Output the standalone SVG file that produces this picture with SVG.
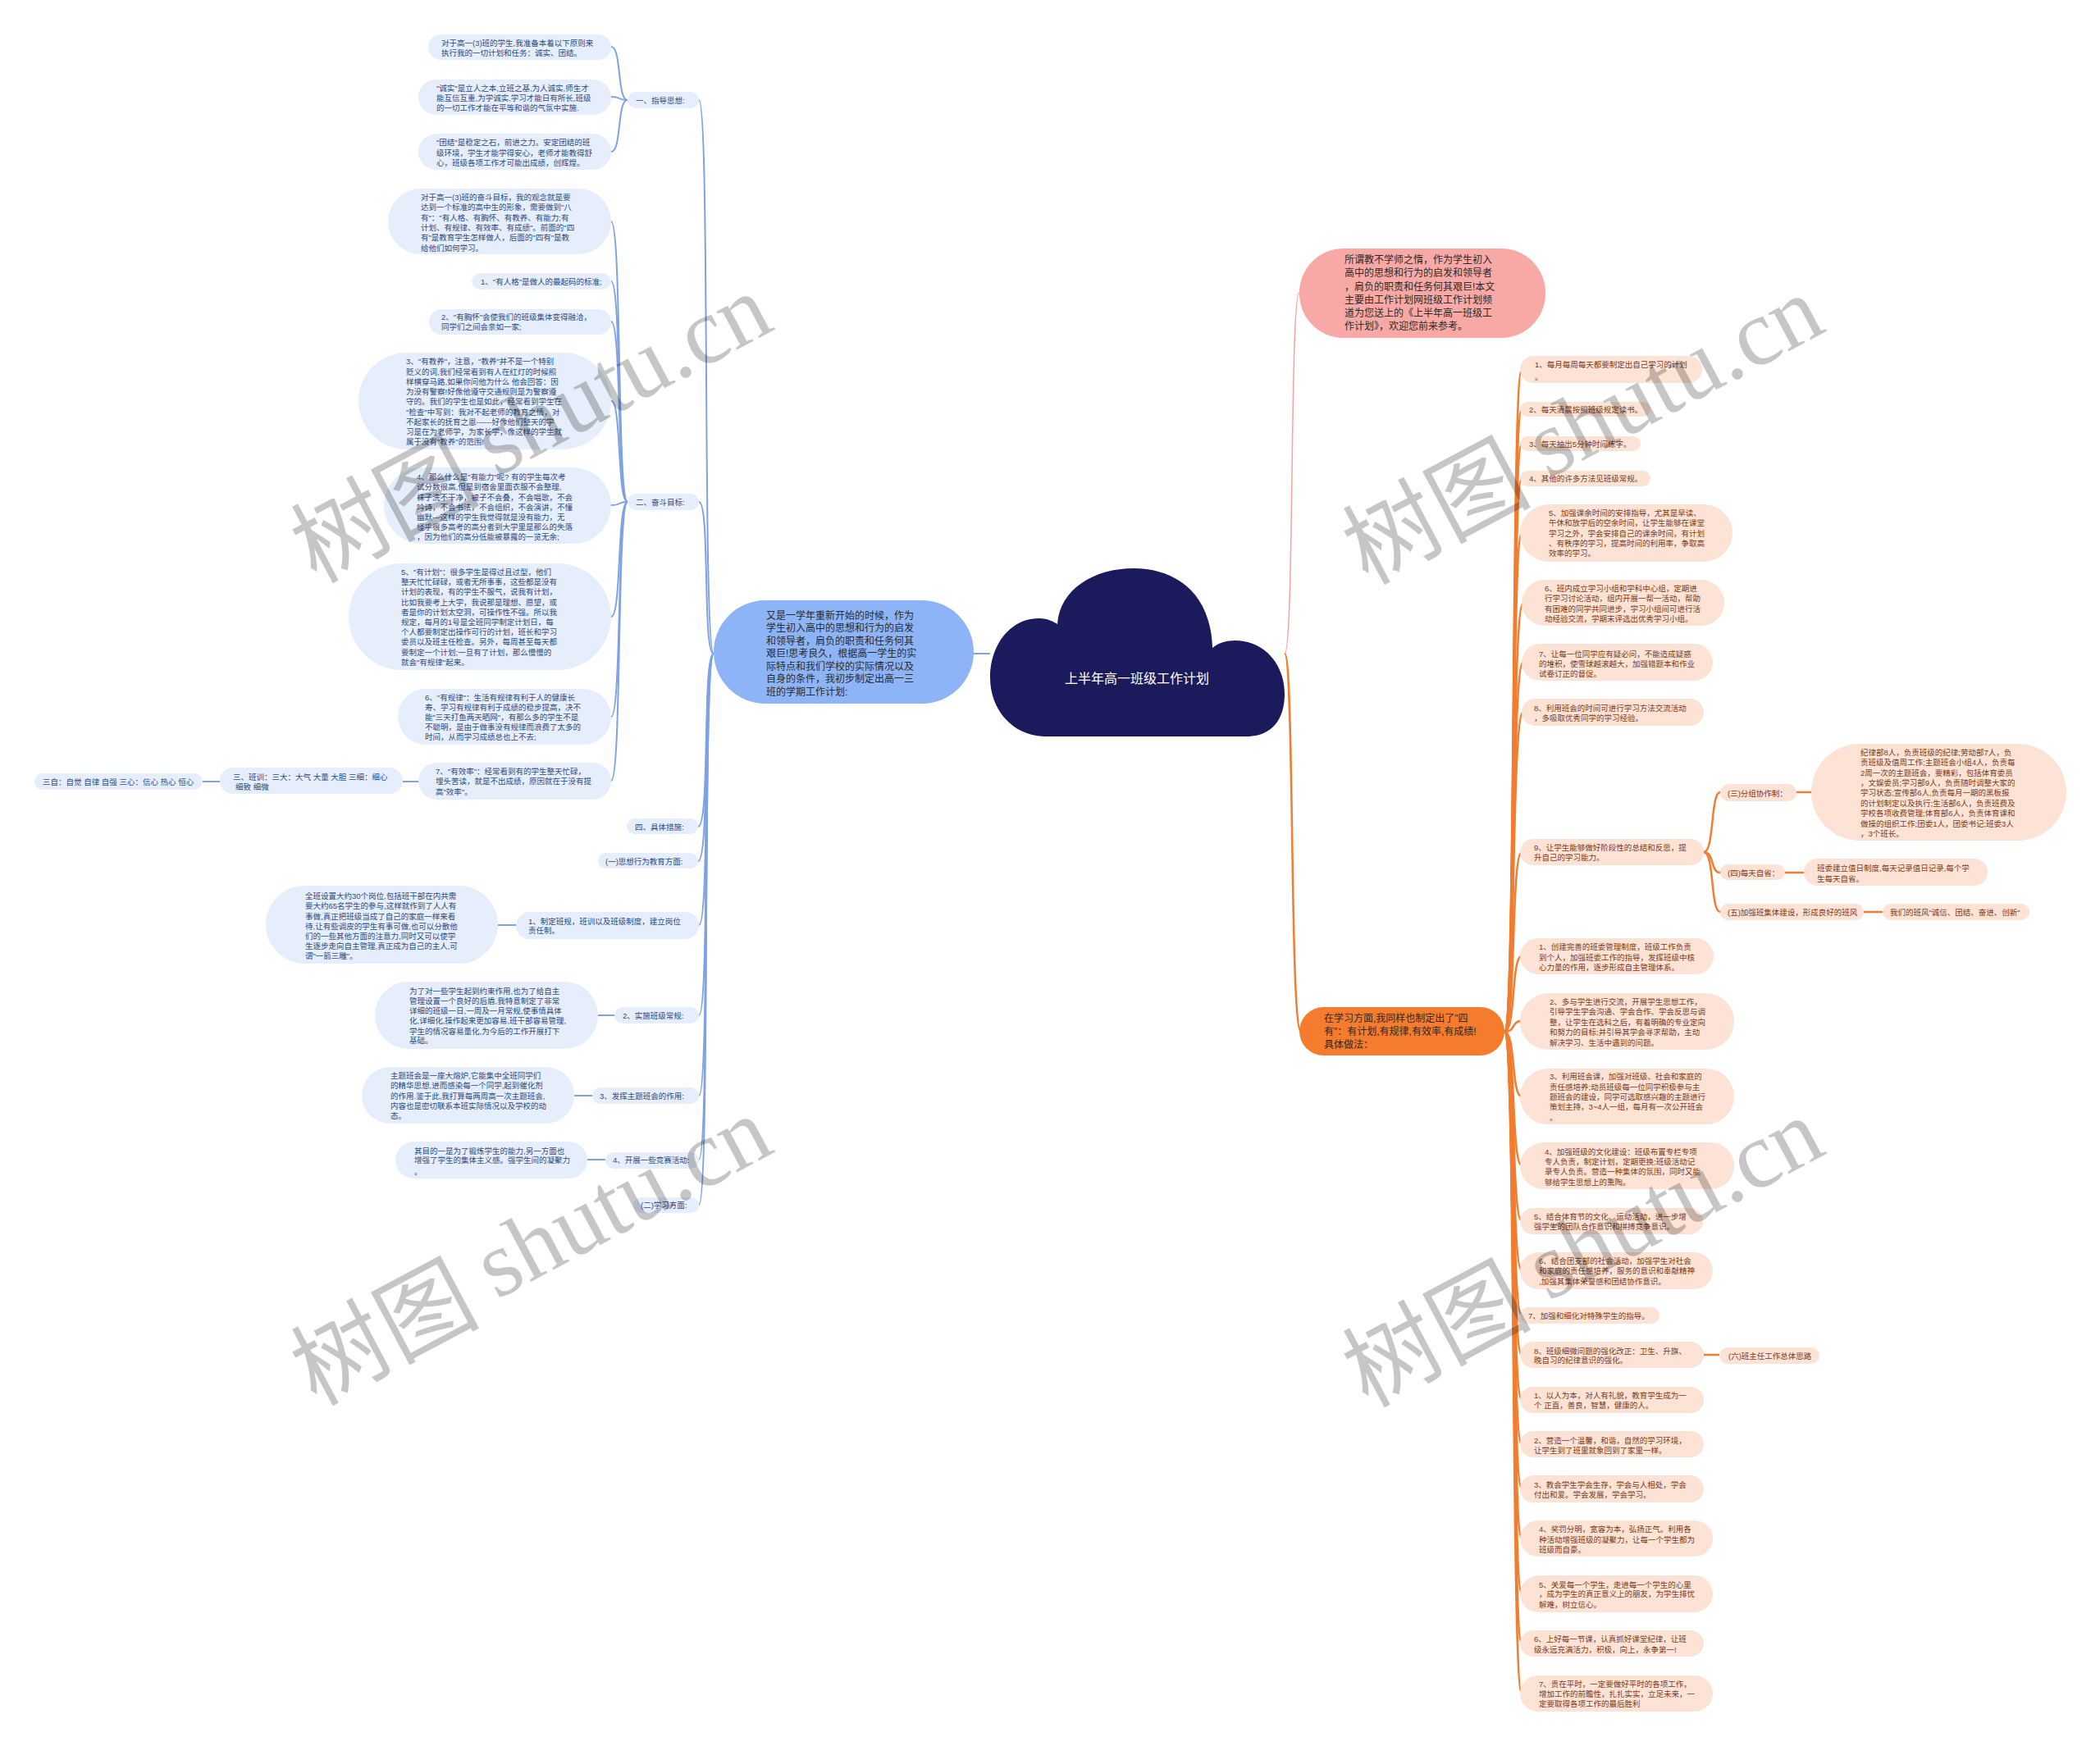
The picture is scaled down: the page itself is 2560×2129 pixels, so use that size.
<svg xmlns="http://www.w3.org/2000/svg" width="2560" height="2129" viewBox="0 0 2560 2129">
<style>
text{font-family:"Liberation Sans","Noto Sans CJK SC",sans-serif;dominant-baseline:central}
.ln{fill:#e6eefc}
.lt{fill:#2d4b80;font-size:9.5px}
.rn{fill:#fde3d5}
.rt{fill:#7a3b1c;font-size:9.5px}
.bt{fill:#2a2a2a;font-size:12px}
.bl{stroke:#7ea2e3;fill:none;stroke-width:2}
.or{stroke:#f27c2f;fill:none;stroke-width:2.5}
.wm{font-size:115px;fill:#000;opacity:0.22;font-family:"Noto Sans CJK SC","Liberation Serif",sans-serif}
</style>
<rect width="2560" height="2129" fill="#ffffff"/>

<g id="connectors">
<path class="bl" d="M1187 797 L1207 797"/>
<path class="bl" d="M870 797 C856 797 866 122 852 122"/>
<path class="bl" d="M870 797 C856 797 866 612 852 612"/>
<path class="bl" d="M870 797 C856 797 866 1008 851 1008"/>
<path class="bl" d="M870 797 C856 797 866 1050 851 1050"/>
<path class="bl" d="M870 797 C856 797 866 1128 852 1128"/>
<path class="bl" d="M870 797 C856 797 866 1238 852 1238"/>
<path class="bl" d="M870 797 C856 797 866 1336 852 1336"/>
<path class="bl" d="M870 797 C856 797 866 1414 852 1414"/>
<path class="bl" d="M870 797 C856 797 866 1469 852 1469"/>
<g>
<path class="bl" stroke-width="1.5" d="M765 122 C752 122 758 57 745 57"/>
<path class="bl" stroke-width="1.5" d="M765 122 C752 122 758 118 745 118"/>
<path class="bl" stroke-width="1.5" d="M765 122 C752 122 758 185 745 185"/>
<path class="bl" stroke-width="1.5" d="M765 612 C752 612 758 270 745 270"/>
<path class="bl" stroke-width="1.5" d="M765 612 C752 612 758 343 745 343"/>
<path class="bl" stroke-width="1.5" d="M765 612 C752 612 758 392 745 392"/>
<path class="bl" stroke-width="1.5" d="M765 612 C752 612 758 489 745 489"/>
<path class="bl" stroke-width="1.5" d="M765 612 C752 612 758 616 745 616"/>
<path class="bl" stroke-width="1.5" d="M765 612 C752 612 758 752 745 752"/>
<path class="bl" stroke-width="1.5" d="M765 612 C752 612 758 874 745 874"/>
<path class="bl" stroke-width="1.5" d="M765 612 C752 612 758 952 745 952"/>
<path class="bl" stroke-width="1.5" d="M510 953 L491 953"/>
<path class="bl" stroke-width="1.5" d="M268 953 L247 953"/>
<path class="bl" stroke-width="1.5" d="M629 1128 L607 1128"/>
<path class="bl" stroke-width="1.5" d="M749 1238 L729 1238"/>
<path class="bl" stroke-width="1.5" d="M722 1336 L700 1336"/>
<path class="bl" stroke-width="1.5" d="M738 1414 L716 1414"/>
</g>
<path d="M1566 797 C1578 797 1572 357 1584 357" fill="none" stroke="#f5a39c" stroke-width="1.5"/>
<path class="or" stroke-width="3.5" d="M1566 797 C1578 797 1572 1258 1586 1258"/>
<path class="or" d="M1834 1258 C1848 1258 1842 450 1855 450"/>
<path class="or" d="M1834 1258 C1848 1258 1842 499 1855 499"/>
<path class="or" d="M1834 1258 C1848 1258 1842 541 1855 541"/>
<path class="or" d="M1834 1258 C1848 1258 1842 583 1855 583"/>
<path class="or" d="M1834 1258 C1848 1258 1842 650 1855 650"/>
<path class="or" d="M1834 1258 C1848 1258 1842 735 1857 735"/>
<path class="or" d="M1834 1258 C1848 1258 1842 807 1857 807"/>
<path class="or" d="M1834 1258 C1848 1258 1842 868 1857 868"/>
<path class="or" d="M1834 1258 C1848 1258 1842 1039 1855 1039"/>
<path class="or" d="M1834 1258 C1848 1258 1842 1166 1855 1166"/>
<path class="or" d="M1834 1258 C1848 1258 1842 1245 1855 1245"/>
<path class="or" d="M1834 1258 C1848 1258 1842 1337 1855 1337"/>
<path class="or" d="M1834 1258 C1848 1258 1842 1421 1855 1421"/>
<path class="or" d="M1834 1258 C1848 1258 1842 1489 1855 1489"/>
<path class="or" d="M1834 1258 C1848 1258 1842 1549 1855 1549"/>
<path class="or" d="M1834 1258 C1848 1258 1842 1604 1855 1604"/>
<path class="or" d="M1834 1258 C1848 1258 1842 1652 1855 1652"/>
<path class="or" d="M1834 1258 C1848 1258 1842 1707 1855 1707"/>
<path class="or" d="M1834 1258 C1848 1258 1842 1761 1855 1761"/>
<path class="or" d="M1834 1258 C1848 1258 1842 1815 1855 1815"/>
<path class="or" d="M1834 1258 C1848 1258 1842 1876 1855 1876"/>
<path class="or" d="M1834 1258 C1848 1258 1842 1943 1855 1943"/>
<path class="or" d="M1834 1258 C1848 1258 1842 2004 1855 2004"/>
<path class="or" d="M1834 1258 C1848 1258 1842 2065 1855 2065"/>
<path class="or" stroke-width="1.5" d="M2077 1039 C2090 1039 2085 966 2097 966"/>
<path class="or" stroke-width="1.5" d="M2077 1039 C2090 1039 2085 1064 2097 1064"/>
<path class="or" stroke-width="1.5" d="M2077 1039 C2090 1039 2085 1112 2097 1112"/>
<path class="or" stroke-width="1.5" d="M2190 966 L2208 966"/>
<path class="or" stroke-width="1.5" d="M2176 1064 L2199 1064"/>
<path class="or" stroke-width="1.5" d="M2272 1112 L2295 1112"/>
<path class="or" stroke-width="1.5" d="M2077 1652 L2096 1652"/>
</g>

<g id="root">
<path d="M1275 898 C1235 898 1207 866 1207 826 C1207 786 1232 754 1266 754 C1276 754 1283 757 1289 761 C1292 718 1334 693 1382 693 C1432 693 1476 722 1478 790 C1485 784 1495 781 1506 781 C1541 781 1566 810 1566 846 C1566 880 1548 898 1520 898 Z" fill="#1b1a5c"/>
<text x="1386" y="827" text-anchor="middle" fill="#ffffff" font-size="16px">上半年高一班级工作计划</text>
</g>

<g id="n-blue">
<rect x="870" y="732" width="317" height="126" rx="63" fill="#8db4f7"/>
<text class="bt"><tspan x="934" y="750.5">又是一学年重新开始的时候，作为</tspan><tspan x="934" y="766">学生初入高中的思想和行为的启发</tspan><tspan x="934" y="781.5">和领导者，肩负的职责和任务何其</tspan><tspan x="934" y="797">艰巨!思考良久，根据高一学生的实</tspan><tspan x="934" y="812.5">际特点和我们学校的实际情况以及</tspan><tspan x="934" y="828">自身的条件，我初步制定出高一三</tspan><tspan x="934" y="843.5">班的学期工作计划:</tspan></text>
</g>

<g id="n-pink">
<rect x="1584" y="303" width="300" height="109" rx="54" fill="#f8a9a5"/>
<text class="bt"><tspan x="1639" y="317">所谓教不学师之惰，作为学生初入</tspan><tspan x="1639" y="333">高中的思想和行为的启发和领导者</tspan><tspan x="1639" y="350">，肩负的职责和任务何其艰巨!本文</tspan><tspan x="1639" y="366">主要由工作计划网班级工作计划频</tspan><tspan x="1639" y="382">道为您送上的《上半年高一班级工</tspan><tspan x="1639" y="398">作计划》，欢迎您前来参考。</tspan></text>
</g>

<g id="n-orange">
<rect x="1584" y="1228" width="250" height="59" rx="29.5" fill="#f57b2d"/>
<text class="bt"><tspan x="1614" y="1242">在学习方面,我同样也制定出了"四</tspan><tspan x="1614" y="1258">有"：有计划,有规律,有效率,有成绩!</tspan><tspan x="1614" y="1274">具体做法：</tspan></text>
</g>

<!-- LEFT -->
<g id="a1"><rect class="ln" x="522" y="42" width="223" height="31" rx="15.5"/>
<text class="lt"><tspan x="538" y="52">对于高一(3)班的学生,我准备本着以下原则来</tspan><tspan x="538" y="64">执行我的一切计划和任务：诚实、团结。</tspan></text></g>
<g id="a2"><rect class="ln" x="510" y="97" width="235" height="43" rx="21.5"/>
<text class="lt"><tspan x="532" y="107">"诚实"是立人之本,立班之基,为人诚实,师生才</tspan><tspan x="532" y="119">能互信互重,为学诚实,学习才能日有所长,班级</tspan><tspan x="532" y="131">的一切工作才能在平等和谐的气氛中实施.</tspan></text></g>
<g id="a3"><rect class="ln" x="510" y="163" width="235" height="44" rx="22"/>
<text class="lt"><tspan x="532" y="173">"团结"是稳定之石，前进之力。安定团结的班</tspan><tspan x="532" y="186">级环境，学生才能学得安心，老师才能教得舒</tspan><tspan x="532" y="198">心，班级各项工作才可能出成绩，创辉煌。</tspan></text></g>
<g id="l1"><rect class="ln" x="765" y="112" width="87" height="20" rx="10"/>
<text class="lt" x="775" y="122">一、指导思想:</text></g>

<g id="b0"><rect class="ln" x="473" y="230" width="272" height="80" rx="40"/>
<text class="lt"><tspan x="513" y="240">对于高一(3)班的奋斗目标，我的观念就是要</tspan><tspan x="513" y="252">达到一个标准的高中生的形象，需要做到"八</tspan><tspan x="513" y="265">有"："有人格、有胸怀、有教养、有能力;有</tspan><tspan x="513" y="277">计划、有规律、有效率、有成绩"。前面的"四</tspan><tspan x="513" y="289">有"是教育学生怎样做人，后面的"四有"是教</tspan><tspan x="513" y="302">给他们如何学习。</tspan></text></g>
<g id="b1"><rect class="ln" x="575" y="333" width="170" height="20" rx="10"/>
<text class="lt" x="586" y="343">1、"有人格"是做人的最起码的标准;</text></g>
<g id="b2"><rect class="ln" x="523" y="377" width="222" height="31" rx="15.5"/>
<text class="lt"><tspan x="538" y="386">2、"有胸怀"会使我们的班级集体变得融洽，</tspan><tspan x="538" y="398">同学们之间会亲如一家;</tspan></text></g>
<g id="b3"><rect class="ln" x="437" y="430" width="308" height="118" rx="59"/>
<text class="lt"><tspan x="495" y="440">3、"有教养"，注意，"教养"并不是一个特别</tspan><tspan x="495" y="453">贬义的词,我们经常看到有人在红灯的时候照</tspan><tspan x="495" y="465">样横穿马路,如果你问他为什么 他会回答：因</tspan><tspan x="495" y="477">为没有警察!好像他遵守交通规则是为警察遵</tspan><tspan x="495" y="489">守的。我们的学生也是如此，经常看到学生在</tspan><tspan x="495" y="502">"检查"中写到：我对不起老师的教育之情，对</tspan><tspan x="495" y="514">不起家长的抚育之恩------好像他们整天的学</tspan><tspan x="495" y="526">习是在为老师学，为家长学，像这样的学生就</tspan><tspan x="495" y="538">属于没有"教养"的范围!</tspan></text></g>
<g id="b4"><rect class="ln" x="468" y="570" width="277" height="93" rx="46.5"/>
<text class="lt"><tspan x="508" y="581">4、那么什么是"有能力"呢? 有的学生每次考</tspan><tspan x="508" y="593">试分数很高,但是到宿舍里面衣服不会整理,</tspan><tspan x="508" y="606">袜子洗不干净，被子不会叠，不会唱歌，不会</tspan><tspan x="508" y="618">吟诗，不会书法，不会组织，不会演讲，不懂</tspan><tspan x="508" y="630">幽默---这样的学生我觉得就是没有能力，无</tspan><tspan x="508" y="642">怪乎很多高考的高分者到大学里是那么的失落</tspan><tspan x="508" y="654">，因为他们的高分低能被暴露的一览无余;</tspan></text></g>
<g id="l2"><rect class="ln" x="765" y="602" width="87" height="20" rx="10"/>
<text class="lt" x="775" y="612">二、奋斗目标:</text></g>
<g id="b5"><rect class="ln" x="425" y="687" width="320" height="130" rx="65"/>
<text class="lt"><tspan x="489" y="697">5、"有计划"：很多学生是得过且过型，他们</tspan><tspan x="489" y="709">整天忙忙碌碌，或者无所事事，这些都是没有</tspan><tspan x="489" y="721">计划的表现，有的学生不服气，说我有计划，</tspan><tspan x="489" y="734">比如我要考上大学，我说那是理想、愿望，或</tspan><tspan x="489" y="746">者是你的计划太空洞，可操作性不强。所以我</tspan><tspan x="489" y="758">规定，每月的1号是全班同学制定计划日，每</tspan><tspan x="489" y="770">个人都要制定出操作可行的计划，班长和学习</tspan><tspan x="489" y="782">委员以及班主任检查。另外，每周甚至每天都</tspan><tspan x="489" y="795">要制定一个计划;一旦有了计划，那么慢慢的</tspan><tspan x="489" y="807">就会"有规律"起来。</tspan></text></g>
<g id="b6"><rect class="ln" x="485" y="840" width="260" height="68" rx="34"/>
<text class="lt"><tspan x="518" y="850">6、"有规律"：生活有规律有利于人的健康长</tspan><tspan x="518" y="862">寿、学习有规律有利于成绩的稳步提高，决不</tspan><tspan x="518" y="874">能"三天打鱼两天晒网"，有那么多的学生不是</tspan><tspan x="518" y="886">不聪明，是由于做事没有规律而浪费了太多的</tspan><tspan x="518" y="898">时间，从而学习成绩总也上不去;</tspan></text></g>
<g id="b7"><rect class="ln" x="510" y="930" width="235" height="45" rx="22.5"/>
<text class="lt"><tspan x="531" y="940">7、"有效率"：经常看到有的学生整天忙碌，</tspan><tspan x="531" y="952">埋头苦读，就是不出成绩，原因就在于没有提</tspan><tspan x="531" y="965">高"效率"。</tspan></text></g>
<g id="banxun"><rect class="ln" x="268" y="936" width="223" height="32" rx="16"/>
<text class="lt"><tspan x="284" y="947">三、班训：三大：大气 大量 大胆 三细：细心</tspan><tspan x="287" y="959">细致 细微</tspan></text></g>
<g id="sanzi"><rect class="ln" x="42" y="943" width="205" height="20" rx="10"/>
<text class="lt" x="52" y="953">三自：自觉 自律 自强 三心：信心 热心 恒心</text></g>
<g id="l4"><rect class="ln" x="764" y="998" width="87" height="19" rx="9.5"/>
<text class="lt" x="774" y="1008">四、具体措施:</text></g>
<g id="l-1"><rect class="ln" x="729" y="1040" width="122" height="19" rx="9.5"/>
<text class="lt" x="738" y="1050">(一)思想行为教育方面:</text></g>
<g id="c1"><rect class="ln" x="324" y="1080" width="283" height="95" rx="47.5"/>
<text class="lt"><tspan x="372" y="1092">全班设置大约30个岗位,包括班干部在内共需</tspan><tspan x="372" y="1104">要大约65名学生的参与,这样就作到了人人有</tspan><tspan x="372" y="1117">事做,真正把班级当成了自己的家庭一样来看</tspan><tspan x="372" y="1129">待,让有些调皮的学生有事可做,也可以分散他</tspan><tspan x="372" y="1141">们的一些其他方面的注意力,同时又可以使学</tspan><tspan x="372" y="1153">生逐步走向自主管理,真正成为自己的主人,可</tspan><tspan x="372" y="1165">谓"一箭三雕"。</tspan></text></g>
<g id="lc1"><rect class="ln" x="629" y="1112" width="223" height="33" rx="16.5"/>
<text class="lt"><tspan x="644" y="1123">1、制定班规，班训以及班级制度，建立岗位</tspan><tspan x="644" y="1134">责任制。</tspan></text></g>
<g id="c2"><rect class="ln" x="457" y="1197" width="272" height="82" rx="41"/>
<text class="lt"><tspan x="499" y="1208">为了对一些学生起到约束作用,也为了给自主</tspan><tspan x="499" y="1220">管理设置一个良好的后盾,我特意制定了非常</tspan><tspan x="499" y="1232">详细的班级一日,一周及一月常规,使事情具体</tspan><tspan x="499" y="1244">化,详细化,操作起来更加容易,班干部容易管理,</tspan><tspan x="499" y="1257">学生的情况容易量化,为今后的工作开展打下</tspan><tspan x="499" y="1268">基础。</tspan></text></g>
<g id="lc2"><rect class="ln" x="749" y="1228" width="103" height="20" rx="10"/>
<text class="lt" x="759" y="1238">2、实施班级常规:</text></g>
<g id="c3"><rect class="ln" x="441" y="1301" width="259" height="69" rx="34.5"/>
<text class="lt"><tspan x="476" y="1311">主题班会是一座大熔炉,它能集中全班同学们</tspan><tspan x="476" y="1323">的精华思想,进而感染每一个同学,起到催化剂</tspan><tspan x="476" y="1336">的作用.鉴于此,我打算每两周高一次主题班会,</tspan><tspan x="476" y="1348">内容也是密切联系本班实际情况以及学校的动</tspan><tspan x="476" y="1360">态。</tspan></text></g>
<g id="lc3"><rect class="ln" x="722" y="1326" width="130" height="20" rx="10"/>
<text class="lt" x="731" y="1336">3、发挥主题班会的作用:</text></g>
<g id="c4"><rect class="ln" x="482" y="1392" width="234" height="45" rx="22.5"/>
<text class="lt"><tspan x="505" y="1403">其目的一是为了锻炼学生的能力,另一方面也</tspan><tspan x="505" y="1414">增强了学生的集体主义感。强学生间的凝聚力</tspan><tspan x="505" y="1428">。</tspan></text></g>
<g id="lc4"><rect class="ln" x="738" y="1405" width="114" height="20" rx="10"/>
<text class="lt" x="747" y="1414">4、开展一些竞赛活动:</text></g>
<g id="l-2"><rect class="ln" x="772" y="1460" width="80" height="19" rx="9.5"/>
<text class="lt" x="781" y="1469">(二)学习方面:</text></g>

<!-- RIGHT -->
<g id="r1"><rect class="rn" x="1853" y="434" width="222" height="33" rx="16.5"/>
<text class="rt"><tspan x="1871" y="444">1、每月每周每天都要制定出自己学习的计划</tspan><tspan x="1871" y="459">。</tspan></text></g>
<g id="r2"><rect class="rn" x="1853" y="490" width="159" height="18" rx="9"/>
<text class="rt" x="1864" y="499">2、每天清晨按照班级规定读书。</text></g>
<g id="r3"><rect class="rn" x="1853" y="532" width="147" height="18" rx="9"/>
<text class="rt" x="1864" y="541">3、每天抽出5分钟时间练字。</text></g>
<g id="r4"><rect class="rn" x="1853" y="574" width="159" height="19" rx="9.5"/>
<text class="rt" x="1864" y="583">4、其他的许多方法见班级常规。</text></g>
<g id="r5"><rect class="rn" x="1853" y="615" width="259" height="70" rx="35"/>
<text class="rt"><tspan x="1888" y="625">5、加强课余时间的安排指导，尤其是早读、</tspan><tspan x="1888" y="637">午休和放学后的空余时间，让学生能够在课堂</tspan><tspan x="1888" y="650">学习之外，学会安排自己的课余时间，有计划</tspan><tspan x="1888" y="662">、有秩序的学习，提高时间的利用率，争取高</tspan><tspan x="1888" y="674">效率的学习。</tspan></text></g>
<g id="r6"><rect class="rn" x="1855" y="707" width="247" height="56" rx="28"/>
<text class="rt"><tspan x="1883" y="717">6、班内成立学习小组和学科中心组，定期进</tspan><tspan x="1883" y="729">行学习讨论活动，组内开展一帮一活动，帮助</tspan><tspan x="1883" y="742">有困难的同学共同进步，学习小组间可进行活</tspan><tspan x="1883" y="754">动经验交流，学期末评选出优秀学习小组。</tspan></text></g>
<g id="r7"><rect class="rn" x="1855" y="785" width="233" height="45" rx="22.5"/>
<text class="rt"><tspan x="1876" y="797">7、让每一位同学应有疑必问，不能造成疑惑</tspan><tspan x="1876" y="809">的堆积，使雪球越滚越大，加强错题本和作业</tspan><tspan x="1876" y="821">试卷订正的督促。</tspan></text></g>
<g id="r8"><rect class="rn" x="1855" y="852" width="222" height="33" rx="16.5"/>
<text class="rt"><tspan x="1870" y="863">8、利用班会的时间可进行学习方法交流活动</tspan><tspan x="1870" y="875">，多吸取优秀同学的学习经验。</tspan></text></g>
<g id="r9"><rect class="rn" x="1853" y="1023" width="224" height="32" rx="16"/>
<text class="rt"><tspan x="1870" y="1033">9、让学生能够做好阶段性的总结和反思，提</tspan><tspan x="1870" y="1045">升自己的学习能力。</tspan></text></g>
<g id="r9a"><rect class="rn" x="2097" y="956" width="93" height="21" rx="10.5"/>
<text class="rt" x="2106" y="967">(三)分组协作制：</text></g>
<g id="r9a1"><rect class="rn" x="2208" y="907" width="311" height="118" rx="59"/>
<text class="rt"><tspan x="2268" y="916.5">纪律部8人，负责班级的纪律;劳动部7人，负</tspan><tspan x="2268" y="929">责班级及值周工作;主题班会小组4人，负责每</tspan><tspan x="2268" y="941.5">2周一次的主题班会，要精彩，包括体育委员</tspan><tspan x="2268" y="954">，文娱委员;学习部9人，负责随时调整大家的</tspan><tspan x="2268" y="966">学习状态;宣传部6人,负责每月一期的黑板报</tspan><tspan x="2268" y="978.5">的计划制定以及执行;生活部6人，负责班费及</tspan><tspan x="2268" y="991">学校各项收费管理;体育部6人，负责体育课和</tspan><tspan x="2268" y="1003.5">做操的组织工作;团委1人，团委书记;班委3人</tspan><tspan x="2268" y="1016">，3个班长。</tspan></text></g>
<g id="r9b"><rect class="rn" x="2097" y="1054" width="79" height="19" rx="9.5"/>
<text class="rt" x="2106" y="1064">(四)每天自省：</text></g>
<g id="r9b1"><rect class="rn" x="2199" y="1047" width="224" height="33" rx="16.5"/>
<text class="rt"><tspan x="2215" y="1058">班委建立值日制度,每天记录值日记录,每个学</tspan><tspan x="2215" y="1071">生每天自省。</tspan></text></g>
<g id="r9c"><rect class="rn" x="2097" y="1102" width="175" height="20" rx="10"/>
<text class="rt" x="2106" y="1112">(五)加强班集体建设，形成良好的班风</text></g>
<g id="r9c1"><rect class="rn" x="2295" y="1102" width="179" height="20" rx="10"/>
<text class="rt" x="2304" y="1112">我们的班风"诚信、团结、奋进、创新"</text></g>

<g id="s1"><rect class="rn" x="1853" y="1144" width="236" height="44" rx="22"/>
<text class="rt"><tspan x="1876" y="1154">1、创建完善的班委管理制度，班级工作负责</tspan><tspan x="1876" y="1167">到个人，加强班委工作的指导，发挥班级中核</tspan><tspan x="1876" y="1179">心力量的作用，逐步形成自主管理体系。</tspan></text></g>
<g id="s2"><rect class="rn" x="1853" y="1211" width="261" height="69" rx="34.5"/>
<text class="rt"><tspan x="1889" y="1221">2、多与学生进行交流，开展学生思想工作，</tspan><tspan x="1889" y="1233">引导学生学会沟通、学会合作、学会反思与调</tspan><tspan x="1889" y="1246">整，让学生在选科之后，有着明确的专业定向</tspan><tspan x="1889" y="1258">和努力的目标;并引导其学会寻求帮助，主动</tspan><tspan x="1889" y="1271">解决学习、生活中遇到的问题。</tspan></text></g>
<g id="s3"><rect class="rn" x="1853" y="1303" width="261" height="68" rx="34"/>
<text class="rt"><tspan x="1889" y="1312">3、利用班会课，加强对班级、社会和家庭的</tspan><tspan x="1889" y="1325">责任感培养;动员班级每一位同学积极参与主</tspan><tspan x="1889" y="1337">题班会的建设，同学可选取感兴趣的主题进行</tspan><tspan x="1889" y="1349">策划主持，3~4人一组，每月有一次公开班会</tspan><tspan x="1889" y="1362">。</tspan></text></g>
<g id="s4"><rect class="rn" x="1853" y="1393" width="261" height="57" rx="28.5"/>
<text class="rt"><tspan x="1883" y="1404">4、加强班级的文化建设：班级布置专栏专项</tspan><tspan x="1883" y="1416">专人负责，制定计划，定期更换;班级活动记</tspan><tspan x="1883" y="1428">录专人负责。营造一种集体的氛围，同时又能</tspan><tspan x="1883" y="1441">够给学生思想上的熏陶。</tspan></text></g>
<g id="s5"><rect class="rn" x="1853" y="1473" width="223" height="32" rx="16"/>
<text class="rt"><tspan x="1870" y="1483">5、结合体育节的文化、运动活动，进一步增</tspan><tspan x="1870" y="1495">强学生的团队合作意识和拼搏竞争意识。</tspan></text></g>
<g id="s6"><rect class="rn" x="1853" y="1527" width="235" height="45" rx="22.5"/>
<text class="rt"><tspan x="1876" y="1537">6、结合团支部的社会活动，加强学生对社会</tspan><tspan x="1876" y="1549">和家庭的责任感培养，服务的意识和奉献精神</tspan><tspan x="1876" y="1562">,加强其集体荣誉感和团结协作意识。</tspan></text></g>
<g id="s7"><rect class="rn" x="1853" y="1594" width="170" height="20" rx="10"/>
<text class="rt" x="1863" y="1604">7、加强和细化对特殊学生的指导。</text></g>
<g id="s8"><rect class="rn" x="1853" y="1636" width="224" height="32" rx="16"/>
<text class="rt"><tspan x="1870" y="1647">8、班级细微问题的强化改正：卫生、升旗、</tspan><tspan x="1870" y="1658">晚自习的纪律意识的强化。</tspan></text></g>
<g id="s8a"><rect class="rn" x="2096" y="1643" width="122" height="20" rx="10"/>
<text class="rt" x="2107" y="1653">(六)班主任工作总体思路</text></g>
<g id="t1"><rect class="rn" x="1853" y="1691" width="224" height="32" rx="16"/>
<text class="rt"><tspan x="1870" y="1701">1、以人为本，对人有礼貌，教育学生成为一</tspan><tspan x="1870" y="1713">个 正直，善良，智慧，健康的人。</tspan></text></g>
<g id="t2"><rect class="rn" x="1853" y="1745" width="224" height="32" rx="16"/>
<text class="rt"><tspan x="1870" y="1756">2、营造一个温馨，和谐，自然的学习环境，</tspan><tspan x="1870" y="1768">让学生到了班里就象回到了家里一样。</tspan></text></g>
<g id="t3"><rect class="rn" x="1853" y="1799" width="224" height="33" rx="16.5"/>
<text class="rt"><tspan x="1870" y="1810">3、教会学生学会生存，学会与人相处，学会</tspan><tspan x="1870" y="1822">付出和爱。学会发展，学会学习。</tspan></text></g>
<g id="t4"><rect class="rn" x="1853" y="1854" width="235" height="44" rx="22"/>
<text class="rt"><tspan x="1876" y="1864">4、奖罚分明，宽容为本，弘扬正气。利用各</tspan><tspan x="1876" y="1877">种活动增强班级的凝聚力，让每一个学生都为</tspan><tspan x="1876" y="1889">班级而自豪。</tspan></text></g>
<g id="t5"><rect class="rn" x="1853" y="1921" width="235" height="45" rx="22.5"/>
<text class="rt"><tspan x="1876" y="1932">5、关爱每一个学生，走进每一个学生的心里</tspan><tspan x="1876" y="1943">，成为学生的真正意义上的朋友，为学生排忧</tspan><tspan x="1876" y="1956">解难，树立信心。</tspan></text></g>
<g id="t6"><rect class="rn" x="1853" y="1988" width="224" height="32" rx="16"/>
<text class="rt"><tspan x="1870" y="1998">6、上好每一节课，认真抓好课堂纪律，让班</tspan><tspan x="1870" y="2011">级永远充满活力，积极，向上，永争第一!</tspan></text></g>
<g id="t7"><rect class="rn" x="1853" y="2043" width="235" height="44" rx="22"/>
<text class="rt"><tspan x="1876" y="2053">7、贵在平时，一定要做好平时的各项工作，</tspan><tspan x="1876" y="2065">增加工作的前瞻性，扎扎实实，立足未来，一</tspan><tspan x="1876" y="2077">定要取得各项工作的最后胜利</tspan></text></g>

<g id="watermark">
<text class="wm" text-anchor="middle" transform="translate(645 517) rotate(-28)">树图 <tspan font-family="Liberation Serif">shutu.cn</tspan></text>
<text class="wm" text-anchor="middle" transform="translate(1927 519) rotate(-28)">树图 <tspan font-family="Liberation Serif">shutu.cn</tspan></text>
<text class="wm" text-anchor="middle" transform="translate(645 1520) rotate(-28)">树图 <tspan font-family="Liberation Serif">shutu.cn</tspan></text>
<text class="wm" text-anchor="middle" transform="translate(1927 1522) rotate(-28)">树图 <tspan font-family="Liberation Serif">shutu.cn</tspan></text>
</g>
</svg>
